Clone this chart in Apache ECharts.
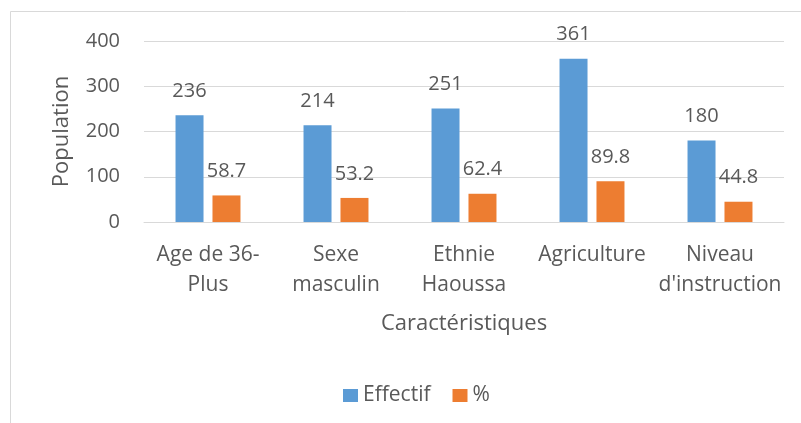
<!DOCTYPE html>
<html><head><meta charset="utf-8">
<script src="https://cdn.jsdelivr.net/npm/echarts@6/dist/echarts.min.js"></script>
<style>html,body{margin:0;padding:0;background:#fff}#c{width:801px;height:423px}</style>
</head><body><div id="c"></div>
<script>
const categories = ['Age de 36-\nPlus', 'Sexe\nmasculin', 'Ethnie\nHaoussa', 'Agriculture', 'Niveau\nd\'instruction'];
const effectif = [236, 214, 251, 361, 180];
const pourcent = [58.7, 53.2, 62.4, 89.8, 44.8];
const yTicks = [0, 100, 200, 300, 400];

const FONT = '"Open Sans", sans-serif';
const TXT = '#595959';
const chart = echarts.init(document.getElementById('c'), null, {renderer: 'canvas'});
chart.setOption({
  animation: false,
  backgroundColor: '#fff',
  graphic: [{type: 'rect', shape: {x: 10.5, y: 11.5, width: 900, height: 500}, style: {fill: 'none', stroke: '#d9d9d9', lineWidth: 1}, silent: true}],
  grid: {left: 144, right: 17, top: 41, bottom: 201, containLabel: false},
  legend: {
    data: ['Effectif', '%'], bottom: 17, left: 343, padding: 0, itemWidth: 15, itemHeight: 13, itemGap: 22,
    icon: 'rect', textStyle: {fontFamily: FONT, fontSize: 21, color: TXT}
  },
  xAxis: {
    type: 'category', data: categories,
    name: 'Caractéristiques', nameLocation: 'middle', nameGap: 91,
    nameTextStyle: {fontFamily: FONT, fontSize: 22, color: TXT},
    axisLine: {lineStyle: {color: '#d9d9d9', width: 1}}, axisTick: {show: false},
    axisLabel: {fontFamily: FONT, fontSize: 21, color: TXT, lineHeight: 30, margin: 18, interval: 0}
  },
  yAxis: {
    type: 'value', min: 0, max: 400, interval: 100,
    name: 'Population', nameLocation: 'middle', nameGap: 71, nameRotate: 90,
    nameTextStyle: {fontFamily: FONT, fontSize: 22, color: TXT},
    axisLine: {show: false}, axisTick: {show: false},
    axisLabel: {fontFamily: FONT, fontSize: 20, color: TXT, margin: 24,
      formatter: v => yTicks.includes(v) ? String(v) : ''},
    splitLine: {lineStyle: {color: '#d9d9d9', width: 1}}
  },
  series: [
    {name: 'Effectif', type: 'bar', data: effectif, barWidth: 28, barGap: '32%', barCategoryGap: '49%',
     itemStyle: {color: '#5b9bd5'},
     label: {show: true, position: 'top', distance: 14, fontFamily: FONT, fontSize: 20, color: TXT}},
    {name: '%', type: 'bar', data: pourcent, barWidth: 28,
     itemStyle: {color: '#ed7d31'},
     label: {show: true, position: 'top', distance: 14, fontFamily: FONT, fontSize: 20, color: TXT}}
  ]
});
</script></body></html>
